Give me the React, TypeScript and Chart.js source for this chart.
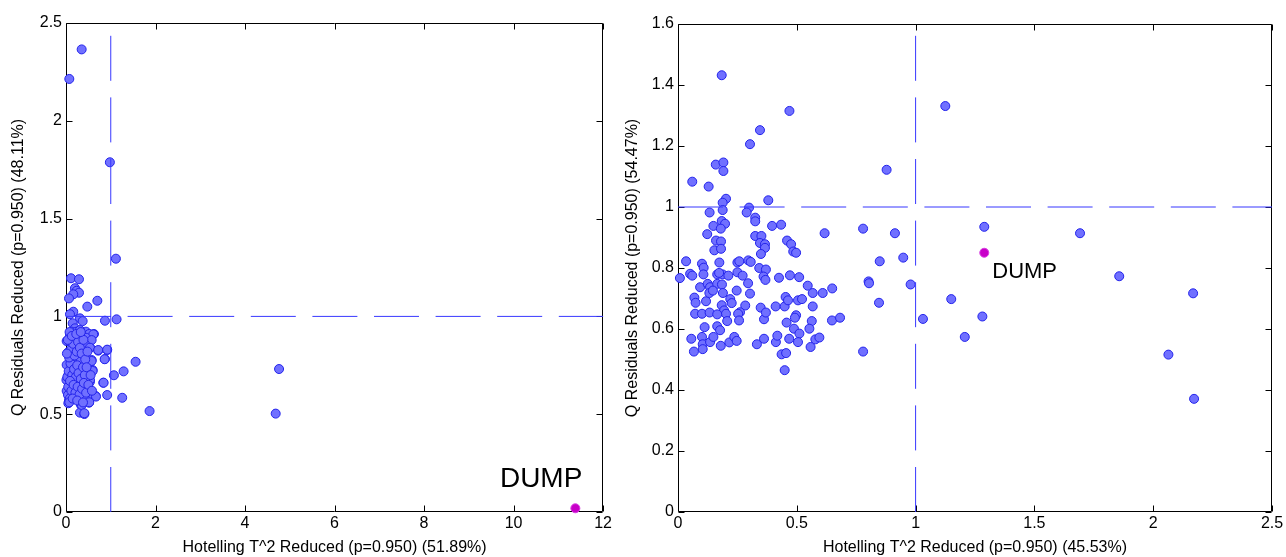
import React, { useEffect, useRef } from "react";
import { Chart, registerables } from "chart.js";

Chart.register(...registerables);

// ---------------- DATA ----------------
// Left panel: Hotelling T^2 reduced vs Q residuals reduced
const leftT2 = [
  0.35, 0.074, 0.98, 1.115, 0.112, 0.29, 0.2, 0.238, 0.29, 0.163, 0.067, 0.70, 0.476, 0.163, 0.089, 0.312,
  0.372, 0.87, 1.13, 0.149, 0.625, 0.446, 0.476, 0.535, 0.535, 0.72, 0.92, 0.424, 0.573, 0.87, 0.312, 1.555,
  0.595, 1.07, 1.287, 4.76, 0.535, 0.833, 0.662, 0.92, 1.256, 0.513, 0.335, 0.312, 0.41, 1.867, 4.685, 0.052,
  0.067,
  0.20, 0.127, 0.238, 0.312, 0.089, 0.178, 0.275, 0.35, 0.52, 0.61, 0.446, 0.573, 0.015, 0.089, 0.223, 0.312,
  0.424, 0.535, 0.72, 0.92, 0.045, 0.127, 0.223, 0.312, 0.387, 0.163, 0.275, 0.327, 0.573, 0.863, 0.015, 0.127,
  0.20, 0.327, 0.446, 0.595, 0.35, 0.461, 0.535, 0.84, 0.052, 0.163, 0.01, 0.089, 0.20, 0.312, 0.424, 0.498,
  0.015, 0.163, 0.275, 0.35, 0.40, 0.61, 0.67, 0.045, 0.089, 0.074, 0.52, 0.35, 0.41,
  0.03, 0.06, 0.10, 0.14, 0.18, 0.22, 0.25, 0.28, 0.33, 0.38, 0.42, 0.05, 0.09, 0.12, 0.17, 0.21, 0.26, 0.30,
  0.36, 0.40, 0.45, 0.07, 0.11, 0.16, 0.19, 0.24, 0.27, 0.31, 0.35, 0.39, 0.43, 0.48, 0.04, 0.08, 0.13, 0.23,
  0.33, 0.15, 0.25, 0.38, 0.46, 0.02, 0.55, 0.50, 0.58,
];
const leftQ = [
  2.365, 2.214, 1.788, 1.295, 1.195, 1.19, 1.144, 1.131, 1.121, 1.113, 1.092, 1.080, 1.050, 1.024, 1.011, 0.990,
  0.976, 0.978, 0.985, 0.965, 0.910, 0.922, 0.90, 0.883, 0.842, 0.825, 0.828, 0.859, 0.777, 0.782, 0.777, 0.768,
  0.726, 0.699, 0.719, 0.731, 0.666, 0.661, 0.593, 0.598, 0.584, 0.559, 0.547, 0.508, 0.501, 0.516, 0.503, 0.556,
  0.573,
  0.939, 0.922, 0.922, 0.930, 0.905, 0.896, 0.896, 0.905, 0.91, 0.908, 0.891, 0.879, 0.874, 0.871, 0.854, 0.854,
  0.857, 0.840, 0.828, 0.83, 0.816, 0.811, 0.816, 0.803, 0.794, 0.786, 0.777, 0.772, 0.772, 0.781, 0.752, 0.743,
  0.748, 0.735, 0.721, 0.721, 0.70, 0.697, 0.675, 0.661, 0.70, 0.683, 0.675, 0.649, 0.658, 0.658, 0.649, 0.632,
  0.619, 0.624, 0.619, 0.607, 0.595, 0.595, 0.59, 0.598, 0.581, 0.561, 0.561, 0.547, 0.505,
  0.69, 0.72, 0.76, 0.70, 0.73, 0.69, 0.75, 0.71, 0.68, 0.74, 0.70, 0.64, 0.67, 0.62, 0.65, 0.61, 0.64, 0.60,
  0.63, 0.66, 0.61, 0.79, 0.83, 0.86, 0.80, 0.82, 0.87, 0.84, 0.81, 0.88, 0.78, 0.82, 0.88, 0.92, 0.90, 0.91,
  0.92, 0.58, 0.57, 0.56, 0.74, 0.81, 0.70, 0.65, 0.62,
];
const leftDump = [11.38, 0.019];
const leftT2Limit = 1;
const leftQLimit = 1;
const leftXTicks = [0, 2, 4, 6, 8, 10, 12];
const leftYTicks = [0, 0.5, 1, 1.5, 2, 2.5];

// Right panel
const rightT2 = [
  0.184, 0.469, 0.345, 0.303, 1.125, 0.159, 0.191, 0.191, 0.060, 0.129, 0.202, 0.188, 0.188, 0.133, 0.299, 0.289,
  0.380, 0.878, 0.325, 0.325, 0.184, 0.198, 0.149, 0.180, 0.396, 0.434, 0.617, 0.779, 0.913, 0.123, 0.325, 0.351,
  0.160, 0.181, 0.345, 0.366, 0.366, 0.459, 0.476, 0.485, 0.497, 0.349, 0.153, 0.181, 0.849, 0.948, 0.034, 0.101,
  0.108, 0.174, 0.250, 0.258, 0.296, 0.306, 0.342, 0.370, 0.051, 0.060, 0.107, 0.165, 0.188, 0.212, 0.250, 0.272,
  0.008, 0.471, 0.510, 0.425, 0.802, 0.173, 0.360, 0.368, 0.295, 0.303, 0.093, 0.125, 0.135, 0.165, 0.185, 0.069,
  0.074, 0.118, 0.132, 0.147, 0.189, 0.247, 0.220, 0.226, 0.283, 0.261, 0.253, 0.257, 0.072, 0.101, 0.133, 0.184,
  0.194, 0.202, 0.165, 0.207, 0.112, 0.165, 0.177, 0.056, 0.101, 0.104, 0.104, 0.067, 0.135, 0.149, 0.180, 0.216,
  0.237, 0.247, 0.332, 0.362, 0.348, 0.362, 0.370, 0.411, 0.449, 0.453, 0.463, 0.505, 0.522, 0.546, 0.567, 0.609,
  0.649, 0.567, 0.457, 0.497, 0.492, 0.488, 0.511, 0.563, 0.553, 0.648, 0.682, 0.468, 0.505, 0.412, 0.418, 0.578,
  0.595, 0.558, 0.436, 0.455, 0.449, 0.779, 0.804, 0.846, 0.979, 1.031, 1.150, 1.207, 1.281, 1.289, 1.692, 1.857,
  2.168, 2.064, 2.172,
];
const rightQ = [
  1.432, 1.315, 1.252, 1.206, 1.331, 1.139, 1.146, 1.118, 1.083, 1.067, 1.027, 1.014, 0.990, 0.982, 0.998, 0.982,
  1.022, 1.122, 0.965, 0.953, 0.954, 0.945, 0.938, 0.929, 0.938, 0.942, 0.914, 0.929, 0.914, 0.911, 0.905, 0.905,
  0.890, 0.887, 0.882, 0.878, 0.866, 0.890, 0.878, 0.854, 0.850, 0.846, 0.858, 0.863, 0.822, 0.834, 0.822, 0.814,
  0.801, 0.818, 0.818, 0.822, 0.825, 0.820, 0.800, 0.795, 0.781, 0.775, 0.779, 0.779, 0.779, 0.775, 0.786, 0.775,
  0.767, 0.776, 0.770, 0.768, 0.756, 0.784, 0.772, 0.761, 0.750, 0.716, 0.737, 0.748, 0.737, 0.748, 0.746, 0.703,
  0.686, 0.691, 0.718, 0.726, 0.718, 0.726, 0.698, 0.685, 0.677, 0.655, 0.650, 0.628, 0.650, 0.650, 0.654, 0.678,
  0.661, 0.650, 0.648, 0.626, 0.606, 0.609, 0.596, 0.568, 0.574, 0.550, 0.534, 0.526, 0.557, 0.574, 0.545, 0.556,
  0.574, 0.561, 0.550, 0.568, 0.670, 0.632, 0.654, 0.674, 0.674, 0.705, 0.694, 0.694, 0.698, 0.742, 0.718, 0.718,
  0.733, 0.674, 0.621, 0.645, 0.637, 0.601, 0.585, 0.626, 0.601, 0.628, 0.637, 0.568, 0.557, 0.557, 0.578, 0.566,
  0.572, 0.541, 0.517, 0.521, 0.465, 0.526, 0.750, 0.686, 0.746, 0.633, 0.698, 0.574, 0.641, 0.935, 0.914, 0.773,
  0.717, 0.516, 0.371,
];
const rightDump = [1.289, 0.850];
const rightT2Limit = 1;
const rightQLimit = 1;
const rightXTicks = [0, 0.5, 1, 1.5, 2, 2.5];
const rightYTicks = [0, 0.2, 0.4, 0.6, 0.8, 1, 1.2, 1.4, 1.6];

const dumpName = "DUMP";

// ---------------- STYLE ----------------
const FONT = "'Liberation Sans', Arial, Helvetica, sans-serif";
const POINT_FILL = "rgb(112,112,255)";
const POINT_EDGE = "rgb(35,35,235)";
const DUMP_FILL = "rgb(200,0,200)";
const DUMP_EDGE = "rgb(215,60,225)";
const LIMIT_COLOR = "rgb(55,55,255)";

const framePlugin = {
  id: "matlabFrame",
  beforeDatasetsDraw(chart: any) {
    const { ctx, chartArea: a, scales } = chart;
    ctx.save();
    ctx.strokeStyle = "#000";
    ctx.lineWidth = 1;
    const L = Math.round(a.left) + 0.5;
    const R = Math.round(a.right) - 0.5;
    const T = Math.round(a.top) + 0.5;
    const B = Math.round(a.bottom) - 0.5;
    ctx.beginPath();
    ctx.rect(L, T, R - L, B - T);
    const tl = 6;
    scales.x.ticks.forEach((t: any) => {
      const px = Math.round(scales.x.getPixelForValue(t.value)) + 0.5;
      ctx.moveTo(px, B);
      ctx.lineTo(px, B - tl);
      ctx.moveTo(px, T);
      ctx.lineTo(px, T + tl);
    });
    scales.y.ticks.forEach((t: any) => {
      const py = Math.round(scales.y.getPixelForValue(t.value)) + 0.5;
      ctx.moveTo(L, py);
      ctx.lineTo(L + tl, py);
      ctx.moveTo(R, py);
      ctx.lineTo(R - tl, py);
    });
    ctx.stroke();
    ctx.restore();
  },
  afterDatasetsDraw(chart: any) {
    const lab = chart.options.plugins.dumpLabel;
    if (!lab) return;
    const meta = chart.getDatasetMeta(lab.datasetIndex);
    const el = meta.data[0];
    if (!el) return;
    const { ctx } = chart;
    ctx.save();
    ctx.fillStyle = "#000";
    ctx.font = `${lab.size}px ${FONT}`;
    ctx.textAlign = lab.align;
    ctx.textBaseline = "alphabetic";
    ctx.fillText(lab.text, el.x + lab.dx, el.y + lab.dy);
    ctx.restore();
  },
};

function makeConfig(p: any) {
  const pts = p.xs.map((x: number, i: number) => ({ x, y: p.ys[i] }));
  return {
    type: "scatter",
    data: {
      datasets: [
        {
          label: "vlimit",
          data: [
            { x: p.xLimit, y: p.yTicks[0] },
            { x: p.xLimit, y: p.yTicks[p.yTicks.length - 1] },
          ],
          showLine: true,
          pointRadius: 0,
          borderColor: LIMIT_COLOR,
          borderWidth: 1,
          borderDash: [45, 16.6],
          fill: false,
          clip: false,
          order: 0,
        },
        {
          label: "hlimit",
          data: [
            { x: p.xTicks[0], y: p.yLimit },
            { x: p.xTicks[p.xTicks.length - 1], y: p.yLimit },
          ],
          showLine: true,
          pointRadius: 0,
          borderColor: LIMIT_COLOR,
          borderWidth: 1,
          borderDash: [45, 16.6],
          fill: false,
          clip: false,
          order: 0,
        },
        {
          label: "samples",
          data: pts,
          pointRadius: 4.5,
          pointBorderWidth: 1,
          backgroundColor: POINT_FILL,
          borderColor: POINT_EDGE,
          clip: false,
          order: 2,
        },
        {
          label: dumpName,
          data: [{ x: p.dump[0], y: p.dump[1] }],
          pointRadius: 4.5,
          pointBorderWidth: 1,
          backgroundColor: DUMP_FILL,
          borderColor: DUMP_EDGE,
          clip: false,
          order: 1,
        },
      ],
    },
    options: {
      responsive: false,
      animation: false,
      events: [],
      layout: { padding: p.padding },
      plugins: {
        legend: { display: false },
        tooltip: { enabled: false },
        dumpLabel: { datasetIndex: 3, text: dumpName, ...p.label },
      },
      scales: {
        x: {
          type: "linear",
          position: "bottom",
          min: p.xTicks[0],
          max: p.xTicks[p.xTicks.length - 1],
          grid: { display: false, drawTicks: false },
          border: { display: false },
          afterBuildTicks: (s: any) => {
            s.ticks = p.xTicks.map((v: number) => ({ value: v }));
          },
          afterFit: (s: any) => {
            s.height = 45;
          },
          ticks: {
            color: "#000",
            font: { family: FONT, size: 16 },
            padding: 2,
            maxRotation: 0,
            autoSkip: false,
            callback: (v: any) => `${v}`,
          },
          title: {
            display: true,
            text: p.xTitle,
            color: "#000",
            font: { family: FONT, size: 16 },
            padding: { top: 0, bottom: 0 },
          },
        },
        y: {
          type: "linear",
          position: "left",
          min: p.yTicks[0],
          max: p.yTicks[p.yTicks.length - 1],
          grid: { display: false, drawTicks: false },
          border: { display: false },
          afterBuildTicks: (s: any) => {
            s.ticks = p.yTicks.map((v: number) => ({ value: v }));
          },
          afterFit: (s: any) => {
            s.width = p.yWidth;
          },
          ticks: {
            color: "#000",
            font: { family: FONT, size: 16 },
            padding: 4,
            autoSkip: false,
            callback: (v: any) => `${v}`,
          },
          title: {
            display: true,
            text: p.yTitle,
            color: "#000",
            font: { family: FONT, size: 16 },
            padding: { top: 9, bottom: 0 },
          },
        },
      },
    },
    plugins: [framePlugin],
  } as any;
}

export default function App() {
  const leftRef = useRef<HTMLCanvasElement | null>(null);
  const rightRef = useRef<HTMLCanvasElement | null>(null);

  useEffect(() => {
    const left = new Chart(
      leftRef.current as HTMLCanvasElement,
      makeConfig({
        xs: leftT2,
        ys: leftQ,
        dump: leftDump,
        xLimit: leftT2Limit,
        yLimit: leftQLimit,
        xTicks: leftXTicks,
        yTicks: leftYTicks,
        xTitle: "Hotelling T^2 Reduced (p=0.950) (51.89%)",
        yTitle: "Q Residuals Reduced (p=0.950) (48.11%)",
        padding: { left: 0, right: 10, top: 23, bottom: 0 },
        yWidth: 66,
        label: { size: 28, align: "right", dx: 7, dy: -21 },
      })
    );
    const right = new Chart(
      rightRef.current as HTMLCanvasElement,
      makeConfig({
        xs: rightT2,
        ys: rightQ,
        dump: rightDump,
        xLimit: rightT2Limit,
        yLimit: rightQLimit,
        xTicks: rightXTicks,
        yTicks: rightYTicks,
        xTitle: "Hotelling T^2 Reduced (p=0.950) (45.53%)",
        yTitle: "Q Residuals Reduced (p=0.950) (54.47%)",
        padding: { left: 0, right: 14, top: 24, bottom: 0 },
        yWidth: 64,
        label: { size: 22, align: "left", dx: 8, dy: 25.5 },
      })
    );
    return () => {
      left.destroy();
      right.destroy();
    };
  }, []);

  return (
    <div style={{ position: "fixed", left: 0, top: 0, width: 1286, height: 557, background: "#fff" }}>
      <canvas ref={leftRef} width={614} height={557} style={{ position: "absolute", left: 0, top: 0 }} />
      <canvas ref={rightRef} width={672} height={557} style={{ position: "absolute", left: 614, top: 0 }} />
    </div>
  );
}
